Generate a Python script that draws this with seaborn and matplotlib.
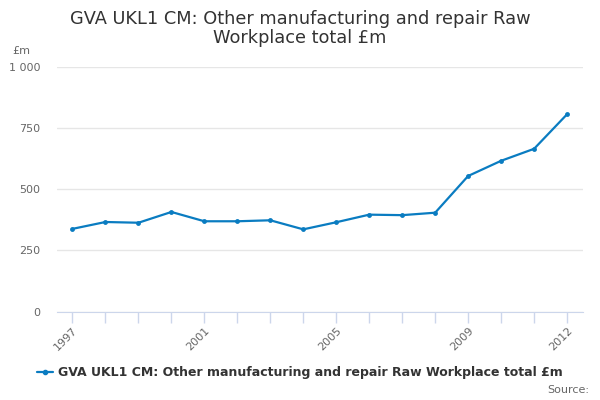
import matplotlib
matplotlib.use("Agg")
import matplotlib.pyplot as plt
import pandas as pd
import seaborn as sns

# Data
years = [1997, 1998, 1999, 2000, 2001, 2002, 2003, 2004,
         2005, 2006, 2007, 2008, 2009, 2010, 2011, 2012]
values = [338, 366, 363, 407, 369, 369, 373, 336,
          365, 396, 394, 404, 554, 616, 665, 806]
year_labels = ['1997', '2001', '2005', '2009', '2012']
y_ticks = [0, 250, 500, 750, 1000]
y_labels = ['0', '250', '500', '750', '1 000']

series_name = 'GVA UKL1 CM: Other manufacturing and repair Raw Workplace total £m'
df = pd.DataFrame({'year': years, 'value': values, 'series': series_name})

sns.set_style('white')
plt.rcParams['font.family'] = ['DejaVu Sans']

fig = plt.figure(figsize=(6, 4), dpi=100)
ax = fig.add_axes([0.095, 0.221, 0.877, 0.612])

line_color = '#0a7cc1'
sns.lineplot(data=df, x='year', y='value', hue='series', palette=[line_color],
             marker='o', markersize=3.5, markeredgewidth=0, linewidth=1.6, ax=ax)

ax.set_xlim(1996.53, 2012.49)
ax.set_ylim(0, 1000)
ax.set_yticks(y_ticks)
ax.set_yticklabels(y_labels, color='#666666', fontsize=8)
ax.set_xticks(years)
ax.set_xticklabels([str(y) if str(y) in year_labels else '' for y in years],
                   rotation=45, ha='right', rotation_mode='anchor',
                   color='#666666', fontsize=8)
ax.tick_params(axis='x', bottom=True, length=8, color='#ccd6eb', width=1,
               direction='out', pad=2)
ax.tick_params(axis='y', left=False, length=0, pad=12)
ax.yaxis.grid(True, color='#e6e6e6', linewidth=1)
ax.set_axisbelow(True)
for side in ['top', 'right', 'left']:
    ax.spines[side].set_visible(False)
ax.spines['bottom'].set_color('#ccd6eb')
ax.set_xlabel('')
ax.set_ylabel('')

ax.legend_.remove()
fig.text(0.5, 0.928, 'GVA UKL1 CM: Other manufacturing and repair Raw\nWorkplace total £m',
         ha='center', va='center', fontsize=12.8, color='#333333', linespacing=1.1)
fig.text(0.02, 0.865, '£m', fontsize=8, color='#666666')

handle = plt.Line2D([], [], color=line_color, marker='o', markersize=3, linewidth=1.6)
leg = fig.legend([handle], [series_name], loc='center', bbox_to_anchor=(0.5, 0.068),
                 frameon=False, fontsize=9, handlelength=1.3, handletextpad=0.4)
for t in leg.get_texts():
    t.set_fontweight('bold')
    t.set_color('#333333')
fig.text(0.982, 0.025, 'Source:', ha='right', va='center', fontsize=8, color='#666666')

fig.savefig('out.png', dpi=100)
